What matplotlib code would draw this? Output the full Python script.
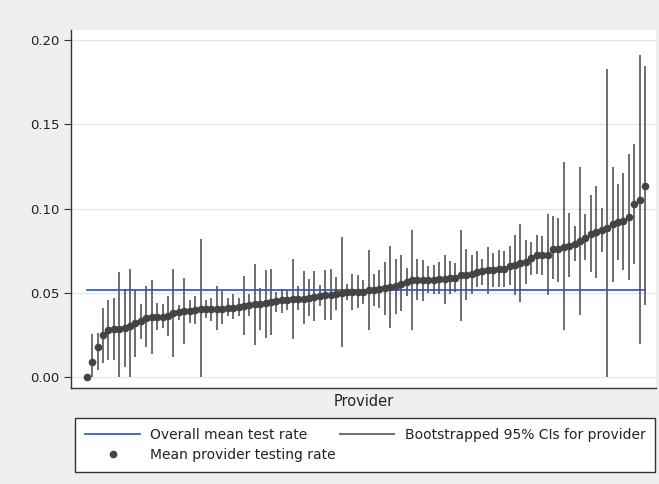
import matplotlib
matplotlib.use("Agg")
import matplotlib.pyplot as plt
import numpy as np

# provider-level mean testing rates (sorted) with bootstrapped 95% CIs
mean_rate = [
    0.0000, 0.0091, 0.0178, 0.0248, 0.0277, 0.0283, 0.0287, 0.0293, 0.0305, 0.0320,
    0.0330, 0.0353, 0.0356, 0.0356, 0.0356, 0.0360, 0.0380, 0.0386, 0.0390, 0.0394,
    0.0400, 0.0404, 0.0404, 0.0404, 0.0406, 0.0406, 0.0412, 0.0412, 0.0416, 0.0424,
    0.0428, 0.0432, 0.0436, 0.0439, 0.0445, 0.0451, 0.0455, 0.0460, 0.0461, 0.0461,
    0.0465, 0.0469, 0.0473, 0.0479, 0.0485, 0.0489, 0.0491, 0.0499, 0.0505, 0.0507,
    0.0507, 0.0507, 0.0515, 0.0519, 0.0523, 0.0531, 0.0534, 0.0539, 0.0550, 0.0564,
    0.0574, 0.0574, 0.0574, 0.0574, 0.0576, 0.0580, 0.0584, 0.0586, 0.0590, 0.0604,
    0.0608, 0.0614, 0.0624, 0.0628, 0.0634, 0.0638, 0.0642, 0.0644, 0.0661, 0.0663,
    0.0677, 0.0681, 0.0709, 0.0724, 0.0724, 0.0727, 0.0757, 0.0760, 0.0772, 0.0778,
    0.0792, 0.0808, 0.0828, 0.0851, 0.0861, 0.0875, 0.0887, 0.0907, 0.0920, 0.0926,
    0.0950, 0.1026, 0.1049, 0.1136,
]
ci_low = [
    0.0000, 0.0000, 0.0040, 0.0083, 0.0099, 0.0099, 0.0000, 0.0060, 0.0000, 0.0119,
    0.0228, 0.0178, 0.0139, 0.0277, 0.0293, 0.0242, 0.0119, 0.0341, 0.0194, 0.0320,
    0.0313, 0.0000, 0.0353, 0.0332, 0.0277, 0.0317, 0.0360, 0.0344, 0.0364, 0.0248,
    0.0365, 0.0188, 0.0277, 0.0234, 0.0248, 0.0386, 0.0380, 0.0400, 0.0228, 0.0396,
    0.0317, 0.0360, 0.0333, 0.0420, 0.0337, 0.0341, 0.0396, 0.0178, 0.0460, 0.0400,
    0.0412, 0.0436, 0.0281, 0.0420, 0.0412, 0.0366, 0.0293, 0.0372, 0.0392, 0.0479,
    0.0277, 0.0455, 0.0449, 0.0499, 0.0495, 0.0495, 0.0436, 0.0495, 0.0505, 0.0333,
    0.0455, 0.0491, 0.0534, 0.0545, 0.0495, 0.0534, 0.0534, 0.0534, 0.0545, 0.0485,
    0.0445, 0.0550, 0.0604, 0.0610, 0.0604, 0.0485, 0.0584, 0.0564, 0.0277, 0.0594,
    0.0689, 0.0366, 0.0693, 0.0624, 0.0590, 0.0742, 0.0000, 0.0564, 0.0697, 0.0638,
    0.0574, 0.0669, 0.0194, 0.0430,
]
ci_high = [
    0.0000, 0.0258, 0.0260, 0.0412, 0.0460, 0.0471, 0.0623, 0.0525, 0.0644, 0.0519,
    0.0436, 0.0543, 0.0574, 0.0439, 0.0432, 0.0479, 0.0644, 0.0426, 0.0590, 0.0460,
    0.0479, 0.0822, 0.0460, 0.0471, 0.0539, 0.0510, 0.0471, 0.0491, 0.0471, 0.0602,
    0.0495, 0.0673, 0.0531, 0.0638, 0.0644, 0.0505, 0.0523, 0.0515, 0.0703, 0.0539,
    0.0629, 0.0584, 0.0629, 0.0545, 0.0634, 0.0644, 0.0594, 0.0831, 0.0550, 0.0610,
    0.0606, 0.0578, 0.0752, 0.0610, 0.0634, 0.0683, 0.0776, 0.0703, 0.0723, 0.0650,
    0.0871, 0.0701, 0.0695, 0.0661, 0.0663, 0.0683, 0.0727, 0.0689, 0.0677, 0.0875,
    0.0757, 0.0723, 0.0748, 0.0703, 0.0772, 0.0736, 0.0752, 0.0748, 0.0776, 0.0843,
    0.0911, 0.0812, 0.0804, 0.0841, 0.0835, 0.0970, 0.0954, 0.0941, 0.1275, 0.0974,
    0.0895, 0.1247, 0.0966, 0.1079, 0.1132, 0.1004, 0.1830, 0.1247, 0.1148, 0.1211,
    0.1322, 0.1382, 0.1910, 0.1845,
]
overall_mean = 0.0519
y_ticks = [0.00, 0.05, 0.10, 0.15, 0.20]

provider = np.arange(1, len(mean_rate) + 1)

fig = plt.figure(figsize=(6.59, 4.84), dpi=100, facecolor="#efefef")
ax = fig.add_axes([0.1077, 0.1983, 0.8877, 0.7397])
ax.set_facecolor("white")

# gridlines
ax.set_yticks(y_ticks)
ax.set_yticklabels([f"{t:.2f}" for t in y_ticks])
ax.grid(axis="y", color="#e6e6e6", linewidth=0.9)
ax.set_axisbelow(True)

# CI bars, mean line, provider means
ci = ax.vlines(provider, ci_low, ci_high, color="#555555", linewidth=1.2,
               label="Bootstrapped 95% CIs for provider", zorder=2)
ml, = ax.plot([provider[0], provider[-1]], [overall_mean, overall_mean],
              color="#1f5aa6", linewidth=1.2, label="Overall mean test rate", zorder=3)
pts, = ax.plot(provider, mean_rate, "o", color="#444444", markersize=4.5,
               label="Mean provider testing rate", zorder=4)

ax.set_xlim(-1.9, 106)
ax.set_ylim(-0.0065, 0.2059)
ax.set_xticks([])

for s in ["top", "right"]:
    ax.spines[s].set_visible(False)
for s in ["left", "bottom"]:
    ax.spines[s].set_color("#333333")
    ax.spines[s].set_linewidth(1.0)
ax.tick_params(axis="y", length=5, color="#333333", labelsize=9.5, labelcolor="#222222")

ax.set_xlabel("Provider", fontsize=10.5, color="#222222", labelpad=4)

# legend in a framed box below the plot
leg = fig.legend([ml, pts, ci],
                 ["Overall mean test rate", "Mean provider testing rate",
                  "Bootstrapped 95% CIs for provider"],
                 ncol=2, loc="upper left", mode="expand",
                 bbox_to_anchor=(0.114, 0.023, 0.88, 0.1136),
                 fontsize=10, handlelength=4.0, handletextpad=0.7,
                 borderaxespad=0, borderpad=0.7, labelspacing=0.45,
                 columnspacing=1.0, fancybox=False, framealpha=1)
leg.get_frame().set_edgecolor("#333333")
leg.get_frame().set_linewidth(1.0)
for t in leg.get_texts():
    t.set_color("#222222")

fig.savefig("out.png", dpi=100, facecolor=fig.get_facecolor())
